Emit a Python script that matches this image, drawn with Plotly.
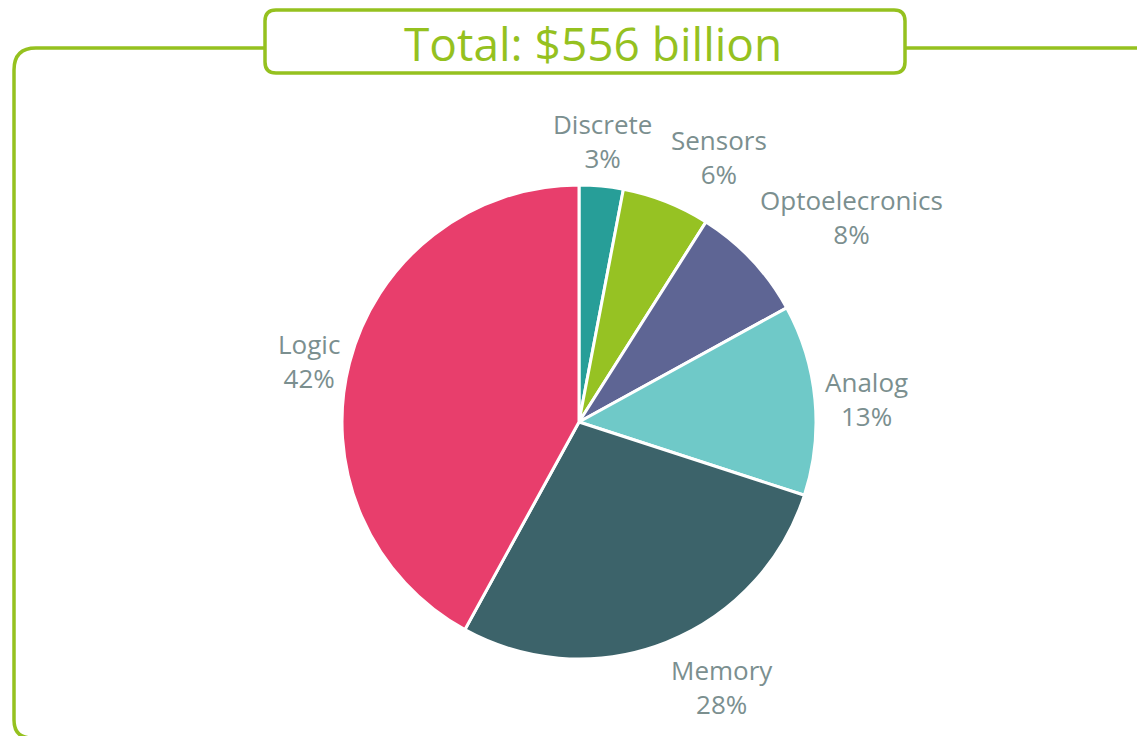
import math
import plotly.graph_objects as go

W, H = 1137, 736

# segment shares of the $556 billion total (percent)
categories = ['Discrete', 'Sensors', 'Optoelecronics', 'Analog', 'Memory', 'Logic']
shares = [3, 6, 8, 13, 28, 42]
colors = ['#279E98', '#96C223', '#5E6594', '#6FC9C8', '#3C636A', '#E83E6C']
title_text = 'Total: $556 billion'

GREEN = '#95C11F'
LABEL = '#7B8F8F'
FONT = 'Open Sans'


def px(x):
    return x / W


def py(y):
    return 1 - y / H


# pie placement (pixels)
cx, cy, r = 579, 422, 237

pie = go.Pie(
    labels=categories,
    values=shares,
    sort=False,
    direction='clockwise',
    rotation=0,
    marker=dict(colors=colors, line=dict(color='white', width=3)),
    textinfo='none',
    showlegend=False,
    hoverinfo='label+percent',
    domain=dict(x=[px(cx - r), px(cx + r)], y=[py(cy + r), py(cy - r)]),
)

fig = go.Figure(data=[pie])

# data labels outside each slice, at the slice's mid angle
annotations = []
total = sum(shares)
cum = 0
for name, v in zip(categories, shares):
    mid = (cum + v / 2) / total * 2 * math.pi
    cum += v
    s, c = math.sin(mid), math.cos(mid)
    d = r + 8
    ax, ay = cx + d * s, cy - d * c
    xa = 'left' if s > 0.2 else ('right' if s < -0.2 else 'center')
    ya = 'bottom' if c > 0.3 else ('top' if c < -0.3 else 'middle')
    annotations.append(dict(
        text=f'{name}<br>{v}%', x=px(ax), y=py(ay), xref='paper', yref='paper',
        showarrow=False, xanchor=xa, yanchor=ya, align='center',
        font=dict(family=FONT, size=26, color=LABEL)))

annotations.append(dict(
    text=title_text, x=px(593), y=py(43), xref='paper', yref='paper',
    showarrow=False, xanchor='center', yanchor='middle',
    font=dict(family=FONT, size=46, color=GREEN)))

# outer frame line
frame = (f'M {px(1145)},{py(48)} L {px(36)},{py(48)} '
         f'Q {px(14)},{py(48)} {px(14)},{py(70)} '
         f'L {px(14)},{py(720)} Q {px(14)},{py(738)} {px(32)},{py(738)}')

# title box (rounded)
x0, x1, y0, y1, rr = 265, 905, 10, 73, 11
box = (f'M {px(x0 + rr)},{py(y0)} L {px(x1 - rr)},{py(y0)} '
       f'Q {px(x1)},{py(y0)} {px(x1)},{py(y0 + rr)} '
       f'L {px(x1)},{py(y1 - rr)} Q {px(x1)},{py(y1)} {px(x1 - rr)},{py(y1)} '
       f'L {px(x0 + rr)},{py(y1)} Q {px(x0)},{py(y1)} {px(x0)},{py(y1 - rr)} '
       f'L {px(x0)},{py(y0 + rr)} Q {px(x0)},{py(y0)} {px(x0 + rr)},{py(y0)} Z')

fig.update_layout(
    width=W, height=H,
    margin=dict(l=0, r=0, t=0, b=0),
    paper_bgcolor='white',
    plot_bgcolor='white',
    shapes=[
        dict(type='path', xref='paper', yref='paper', path=frame,
             line=dict(color=GREEN, width=3.5), layer='below'),
        dict(type='path', xref='paper', yref='paper', path=box,
             line=dict(color=GREEN, width=3.5), fillcolor='white', layer='below'),
    ],
    annotations=annotations,
)

fig.write_html('out.html', config={'displayModeBar': False},
               post_script="document.body.style.margin='0';")
